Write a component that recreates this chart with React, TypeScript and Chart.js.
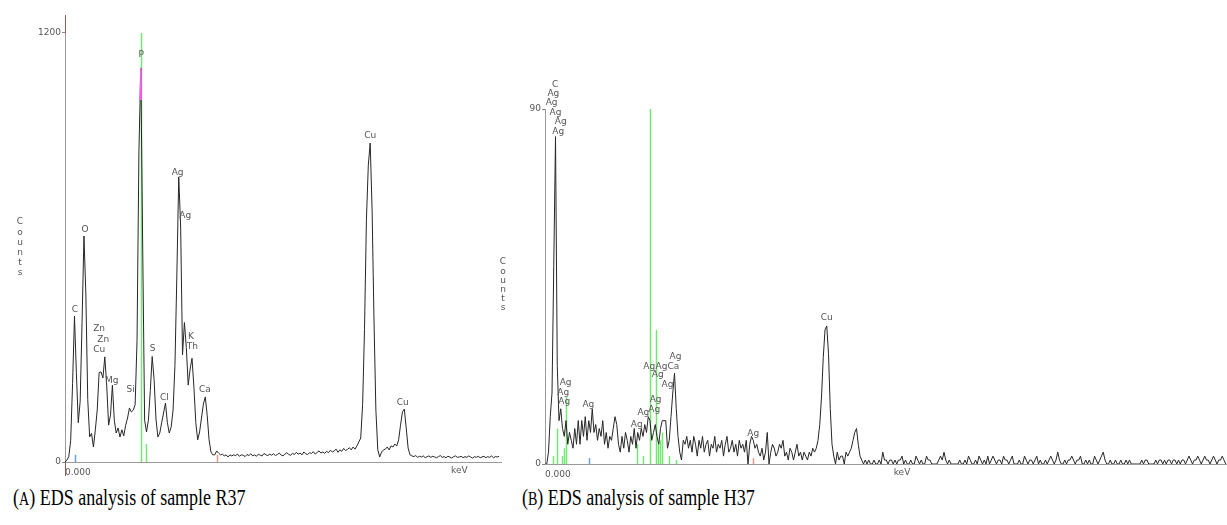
import React, { useEffect, useRef } from "react";
import { Chart, registerables } from "chart.js";

Chart.register(...registerables);

// ---------- Sample R37 ----------
// Counts per 0.05 keV channel, starting at 0.00 keV
const R37_STEP = 0.05;
const r37Counts = [
  0, 5, 15, 60, 220, 408, 250, 110, 170, 390,
  632, 470, 175, 70, 80, 42, 90, 145, 250, 252,
  235, 294, 215, 103, 131, 215, 117, 81, 95, 70,
  90, 73, 103, 123, 151, 140, 145, 160, 340, 870,
  1102, 593, 117, 84, 117, 200, 295, 230, 120, 70,
  81, 110, 137, 165, 110, 81, 98, 145, 270, 520,
  797, 660, 300, 390, 320, 215, 260, 290, 210, 110,
  62, 84, 123, 162, 182, 131, 62, 28, 20, 20,
  31, 25, 20, 22, 17, 20, 14, 20, 17, 20,
  18, 22, 16, 20, 19, 15, 21, 18, 23, 17,
  20, 16, 22, 19, 17, 24, 20, 18, 22, 19,
  23, 18, 21, 25, 20, 17, 22, 26, 21, 19,
  24, 21, 27, 22, 25, 20, 28, 23, 21, 26,
  24, 29, 22, 27, 31, 25, 28, 24, 30, 26,
  33, 28, 31, 36, 27, 34, 30, 38, 32, 35,
  40, 34, 42, 36, 45, 56, 67, 160, 370, 677,
  830, 892, 705, 397, 145, 34, 14, 28, 34, 36,
  42, 34, 45, 42, 50, 45, 62, 103, 140, 148,
  95, 39, 20, 17, 15, 18, 13, 16, 14, 17,
  12, 15, 17, 13, 16, 14, 12, 15, 18, 13,
  15, 12, 16, 14, 11, 15, 17, 13, 14, 16,
  12, 15, 13, 17, 14, 11, 15, 13, 16, 12,
  14, 16, 12, 15, 13, 17, 12, 15, 14, 16,
];
const r37YTicks = [0, 1200];
const r37LabelText = ["C", "O", "Zn", "Zn", "Cu", "Mg", "Si", "P", "S", "Cl", "Ag", "Ag", "K", "Th", "Ca", "Cu", "Cu"];
const r37LabelKeV = [0.26, 0.53, 0.9, 1.01, 0.9, 1.23, 1.73, 2.01, 2.31, 2.62, 2.97, 3.17, 3.32, 3.36, 3.69, 8.05, 8.91];
const r37LabelCounts = [425, 651, 372, 343, 315, 227, 201, 1138, 318, 180, 809, 689, 350, 322, 201, 912, 166];
// KLM / ROI markers drawn up from the baseline
const r37MarkerKeV = [0.26, 2.01, 2.14, 4.01];
const r37MarkerCounts = [20, 1200, 50, 20];
const r37MarkerKind = ["roi", "line", "line", "cursor"];
// Counts above which the P peak is flagged in magenta
const R37_OVERRANGE = 1012;

// ---------- Sample H37 ----------
const H37_STEP = 0.05;
const h37Counts = [
  0, 0, 3, 12, 18, 50, 83, 25, 11, 14,
  9, 7, 11, 5, 8, 6, 4, 9, 5, 11,
  5, 11, 7, 12, 6, 11, 8, 14, 8, 10,
  6, 9, 7, 11, 5, 8, 4, 7, 6, 9,
  12, 10, 5, 3, 7, 4, 8, 6, 3, 7,
  5, 9, 4, 8, 6, 9, 7, 10, 8, 12,
  11, 6, 8, 10, 7, 5, 9, 11, 11, 11,
  4, 6, 12, 18, 23, 14, 7, 3, 1, 6,
  5, 7, 4, 6, 3, 7, 5, 2, 6, 4,
  7, 3, 5, 6, 2, 5, 4, 7, 3, 5,
  4, 6, 2, 5, 7, 3, 4, 6, 3, 5,
  2, 6, 4, 5, 3, 6, 0, 5, 7, 6,
  4, 5, 3, 2, 4, 1, 3, 8, 0, 3,
  5, 4, 2, 3, 5, 4, 6, 2, 3, 1,
  4, 3, 1, 3, 5, 2, 3, 1, 3, 2,
  1, 3, 2, 4, 3, 4, 6, 10, 17, 27,
  34, 35, 28, 14, 5, 2, 0, 3, 1, 2,
  2, 0, 3, 2, 3, 4, 6, 8, 9, 5,
  2, 1, 0, 1, 0, 1, 0, 0, 1, 0,
  0, 1, 0, 3, 1, 1, 0, 1, 1, 0,
  1, 0, 1, 1, 2, 0, 1, 0, 0, 1,
  0, 0, 2, 1, 0, 1, 0, 0, 2, 1,
  1, 0, 0, 0, 0, 1, 2, 1, 3, 1,
  0, 1, 0, 0, 0, 0, 0, 1, 0, 0,
  1, 0, 2, 1, 0, 0, 1, 0, 2, 1,
  0, 1, 0, 2, 0, 1, 2, 1, 0, 1,
  1, 0, 2, 1, 1, 0, 1, 2, 0, 0,
  0, 1, 0, 0, 2, 1, 0, 1, 1, 0,
  1, 2, 0, 1, 0, 0, 1, 0, 1, 2,
  1, 0, 1, 3, 1, 0, 0, 1, 0, 1,
  1, 2, 1, 0, 1, 1, 2, 0, 0, 1,
  0, 1, 0, 0, 2, 1, 0, 1, 2, 3,
  1, 0, 0, 1, 0, 0, 1, 0, 0, 1,
  0, 0, 1, 0, 1, 0, 0, 0, 0, 0,
  0, 1, 0, 1, 1, 0, 0, 0, 0, 1,
  0, 1, 1, 0, 1, 0, 1, 1, 0, 1,
  1, 0, 1, 0, 1, 1, 0, 1, 2, 1,
  0, 1, 1, 2, 1, 0, 1, 2, 1, 1,
  0, 1, 2, 1, 0, 1, 1, 2, 1, 0,
];
const h37YTicks = [0, 90];
const h37LabelText = [
  "C", "Ag", "Ag", "Ag", "Ag", "Ag",
  "Ag", "Ag", "Ag", "Ag",
  "Ag", "Ag", "Ag", "Ag", "Ag", "Ag", "Ca", "Ag", "Ag", "Ag",
  "Ag", "Cu",
];
const h37LabelKeV = [
  0.29, 0.24, 0.19, 0.3, 0.45, 0.38,
  0.59, 0.52, 0.55, 1.24,
  2.62, 2.81, 3.16, 3.12, 2.98, 3.33, 3.67, 3.73, 3.22, 3.5,
  5.95, 8.05,
];
const h37LabelCounts = [
  96.2, 93.8, 91.5, 89.0, 86.7, 84.2,
  20.6, 18.2, 15.8, 15.0,
  9.9, 13.0, 16.2, 13.9, 24.8, 24.8, 24.8, 27.2, 22.6, 20.0,
  7.8, 37.2,
];
const h37MarkerKeV = [0.23, 0.33, 0.48, 0.54, 0.6, 1.26, 2.63, 2.8, 2.99, 3.16, 3.22, 3.29, 3.34, 3.54, 3.74, 5.94];
const h37MarkerCounts = [2, 9, 2, 4, 17, 1.5, 5, 2, 90, 34, 5, 6, 8, 2, 1, 1.5];
const h37MarkerKind = ["line", "line", "line", "line", "line", "roi", "line", "line", "line", "line", "line", "line", "line", "line", "line", "cursor"];

const MARKER_COLOURS: Record<string, string> = {
  line: "#72e872",
  roi: "#6f9be6",
  cursor: "#e89a86",
};

const SMALL_FONT = '9px "DejaVu Sans"';
const TEXT_GREY = "#555";
const AXIS_GREY = "#9a9a9a";
const AXIS_BROWN = "#9b5a50";

type PanelSpec = {
  counts: number[];
  step: number;
  xMax: number;
  yMax: number;
  yTicks: number[];
  labelText: string[];
  labelKeV: number[];
  labelCounts: number[];
  markerKeV: number[];
  markerCounts: number[];
  markerKind: string[];
  overRange?: number;
  left: number;
  width: number;
  height: number;
  yAxisWidth: number;
  xAxisHeight: number;
  padTop: number;
  padRight: number;
  countsX: number;
  countsY: number;
  countsGap: number;
  keVAt: number;
  brownAxis: boolean;
};

function overlayPlugin(spec: PanelSpec) {
  return {
    id: "edsOverlay",
    beforeDatasetsDraw(chart: any) {
      const { ctx } = chart;
      const x = chart.scales.x;
      const y = chart.scales.y;
      spec.markerKeV.forEach((e, i) => {
        const px = Math.round(x.getPixelForValue(e)) + 0.5;
        ctx.save();
        ctx.strokeStyle = MARKER_COLOURS[spec.markerKind[i]];
        ctx.lineWidth = 1.5;
        ctx.beginPath();
        ctx.moveTo(px, y.getPixelForValue(0));
        ctx.lineTo(px, y.getPixelForValue(spec.markerCounts[i]));
        ctx.stroke();
        ctx.restore();
      });
    },
    beforeDatasetDraw(chart: any, args: any) {
      if (args.index !== 1 || spec.overRange == null) return;
      const { ctx, chartArea } = chart;
      const yc = chart.scales.y.getPixelForValue(spec.overRange);
      ctx.save();
      ctx.beginPath();
      ctx.rect(chartArea.left, chartArea.top, chartArea.right - chartArea.left, yc - chartArea.top);
      ctx.clip();
    },
    afterDatasetDraw(chart: any, args: any) {
      if (args.index !== 1 || spec.overRange == null) return;
      chart.ctx.restore();
    },
    afterDraw(chart: any) {
      const { ctx, chartArea } = chart;
      const x = chart.scales.x;
      const y = chart.scales.y;
      ctx.save();
      if (spec.brownAxis) {
        const ax = Math.round(chartArea.left) + 0.5;
        ctx.strokeStyle = AXIS_BROWN;
        ctx.lineWidth = 1;
        ctx.beginPath();
        ctx.moveTo(ax, chartArea.top);
        ctx.lineTo(ax, y.getPixelForValue(spec.yTicks[spec.yTicks.length - 1]));
        ctx.moveTo(ax, chartArea.bottom);
        ctx.lineTo(ax, chartArea.bottom + 14);
        ctx.stroke();
      }
      ctx.font = SMALL_FONT;
      ctx.fillStyle = TEXT_GREY;
      ctx.textAlign = "center";
      ctx.textBaseline = "middle";
      spec.labelText.forEach((t, i) => {
        ctx.fillText(t, x.getPixelForValue(spec.labelKeV[i]), y.getPixelForValue(spec.labelCounts[i]));
      });
      "Counts".split("").forEach((ch, i) => {
        ctx.fillText(ch, spec.countsX, spec.countsY + i * spec.countsGap);
      });
      ctx.fillText("keV", x.getPixelForValue(spec.keVAt), chartArea.bottom + 9);
      ctx.restore();
    },
  };
}

function buildConfig(spec: PanelSpec): any {
  const points = spec.counts.map((c, i) => ({ x: Number((i * spec.step).toFixed(2)), y: c }));
  const datasets: any[] = [
    {
      data: points,
      borderColor: "#262626",
      borderWidth: 1,
      pointRadius: 0,
      tension: 0,
    },
  ];
  if (spec.overRange != null) {
    datasets.push({
      data: points,
      borderColor: "#ff5cf0",
      borderWidth: 1.5,
      pointRadius: 0,
      tension: 0,
      order: -1,
    });
  }
  return {
    type: "line",
    data: { datasets },
    options: {
      responsive: false,
      animation: false,
      devicePixelRatio: 1,
      layout: { padding: { top: spec.padTop, right: spec.padRight, left: 0, bottom: 0 } },
      plugins: { legend: { display: false }, tooltip: { enabled: false } },
      scales: {
        x: {
          type: "linear",
          min: 0,
          max: spec.xMax,
          afterBuildTicks: (axis: any) => {
            axis.ticks = [{ value: 0 }];
          },
          afterFit: (axis: any) => {
            axis.height = spec.xAxisHeight;
          },
          grid: { display: false, drawTicks: false },
          border: { display: true, color: AXIS_GREY, width: 1 },
          ticks: {
            align: "start",
            maxRotation: 0,
            padding: 5,
            color: TEXT_GREY,
            font: { family: "DejaVu Sans", size: 9 },
            callback: (v: any) => Number(v).toFixed(3),
          },
        },
        y: {
          type: "linear",
          min: 0,
          max: spec.yMax,
          afterBuildTicks: (axis: any) => {
            axis.ticks = spec.yTicks.map((v) => ({ value: v }));
          },
          afterFit: (axis: any) => {
            axis.width = spec.yAxisWidth;
          },
          grid: { display: true, drawOnChartArea: false, drawTicks: true, tickLength: 3, color: "#888" },
          border: { display: true, color: AXIS_GREY, width: 1 },
          ticks: {
            padding: 1,
            color: TEXT_GREY,
            font: { family: "DejaVu Sans", size: 9 },
            callback: (v: any) => String(v),
          },
        },
      },
    },
    plugins: [overlayPlugin(spec)],
  };
}

const r37Spec: PanelSpec = {
  counts: r37Counts,
  step: R37_STEP,
  xMax: 11.5,
  yMax: 1250,
  yTicks: r37YTicks,
  labelText: r37LabelText,
  labelKeV: r37LabelKeV,
  labelCounts: r37LabelCounts,
  markerKeV: r37MarkerKeV,
  markerCounts: r37MarkerCounts,
  markerKind: r37MarkerKind,
  overRange: R37_OVERRANGE,
  left: 0,
  width: 505,
  height: 480,
  yAxisWidth: 65,
  xAxisHeight: 18,
  padTop: 15,
  padRight: 4,
  countsX: 20,
  countsY: 222,
  countsGap: 10.2,
  keVAt: 10.4,
  brownAxis: true,
};

const h37Spec: PanelSpec = {
  counts: h37Counts,
  step: H37_STEP,
  xMax: 682 / 35,
  yMax: 90,
  yTicks: h37YTicks,
  labelText: h37LabelText,
  labelKeV: h37LabelKeV,
  labelCounts: h37LabelCounts,
  markerKeV: h37MarkerKeV,
  markerCounts: h37MarkerCounts,
  markerKind: h37MarkerKind,
  left: 490,
  width: 737,
  height: 480,
  yAxisWidth: 55,
  xAxisHeight: 16,
  padTop: 109,
  padRight: 0,
  countsX: 13,
  countsY: 262,
  countsGap: 9.2,
  keVAt: 10.2,
  brownAxis: false,
};

function EdsPanel({ spec }: { spec: PanelSpec }) {
  const ref = useRef<HTMLCanvasElement>(null);
  useEffect(() => {
    if (!ref.current) return;
    const chart = new Chart(ref.current, buildConfig(spec));
    return () => chart.destroy();
  }, [spec]);
  return (
    <canvas
      ref={ref}
      width={spec.width}
      height={spec.height}
      style={{ position: "absolute", left: spec.left, top: 0, width: spec.width, height: spec.height }}
    />
  );
}

function Caption({ left, letter, text }: { left: number; letter: string; text: string }) {
  return (
    <div
      style={{
        position: "absolute",
        left,
        top: 481,
        fontFamily: '"Liberation Serif", serif',
        fontSize: 24,
        lineHeight: "32px",
        whiteSpace: "nowrap",
        color: "#000",
        transform: "scaleX(0.75)",
        transformOrigin: "left center",
      }}
    >
      (<span style={{ fontSize: "0.78em" }}>{letter}</span>) {text}
    </div>
  );
}

export default function App() {
  return (
    <div
      style={{
        position: "absolute",
        left: 0,
        top: 0,
        width: 1227,
        height: 525,
        background: "#fff",
        overflow: "hidden",
      }}
    >
      <EdsPanel spec={r37Spec} />
      <EdsPanel spec={h37Spec} />
      <Caption left={13} letter="A" text="EDS analysis of sample R37" />
      <Caption left={522} letter="B" text="EDS analysis of sample H37" />
    </div>
  );
}
